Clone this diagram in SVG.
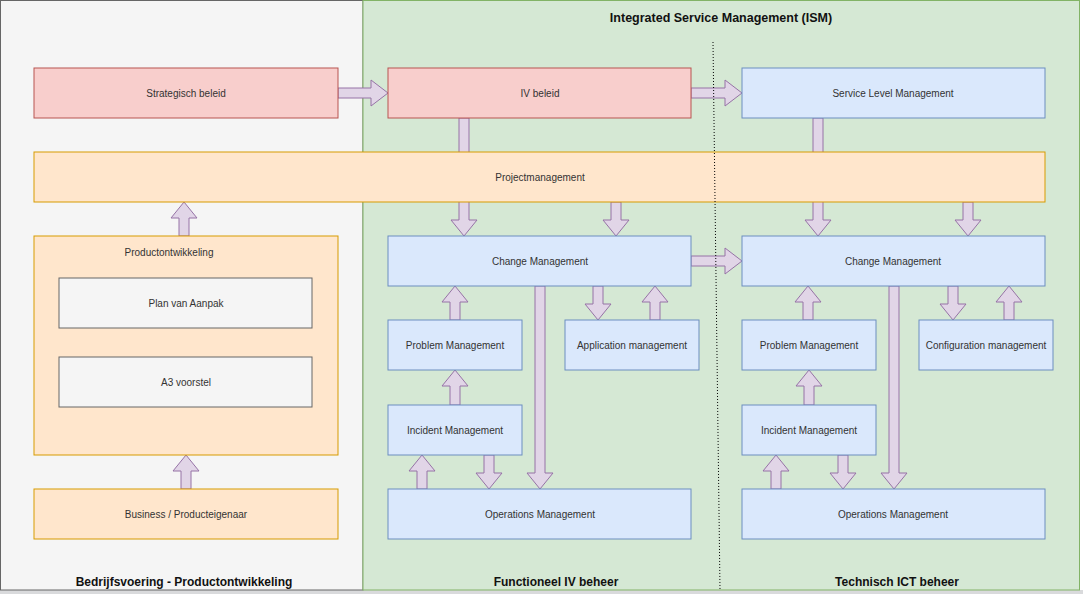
<svg xmlns="http://www.w3.org/2000/svg" width="1083" height="594" viewBox="0 0 1083 594">
<style>
.lbl{font-family:"Liberation Sans",Arial,sans-serif;font-size:10px;fill:#333;text-anchor:middle;dominant-baseline:central}
.ttl{font-family:"Liberation Sans",Arial,sans-serif;font-size:12px;font-weight:bold;fill:#111;text-anchor:middle;dominant-baseline:central}
.red{fill:#f8cecc;stroke:#b85450}
.blue{fill:#dae8fc;stroke:#6c8ebf}
.orange{fill:#ffe6cc;stroke:#d79b00}
.gray{fill:#f5f5f5;stroke:#666}
.arr{fill:#e1d5e7;stroke:#9673a6;stroke-width:1}
</style>
<rect x="0" y="0" width="1083" height="594" fill="#ffffff"/>
<rect x="0" y="590" width="1083" height="4" fill="#d9dadc"/>
<g id="lane-left">
<rect x="0.5" y="0.5" width="362.5" height="589.5" fill="#f5f5f5" stroke="#666"/>
<text class="ttl" x="184" y="582">Bedrijfsvoering - Productontwikkeling</text>
</g>
<g id="lane-ism">
<rect x="363" y="0.5" width="716.5" height="589.5" fill="#d5e8d4" stroke="#82b366"/>
<text class="ttl" x="721" y="18" style="font-size:12.5px">Integrated Service Management (ISM)</text>
<text class="ttl" x="556" y="582">Functioneel IV beheer</text>
<text class="ttl" x="897" y="582">Technisch ICT beheer</text>
</g>
<g id="connectors">
<polygon class="arr" points="338,88 371,88 371,80 388,93 371,106 371,98 338,98"/>
<polygon class="arr" points="691,88 725,88 725,80 742,93 725,106 725,98 691,98"/>
<polygon class="arr" points="691,256 725,256 725,248 742,261 725,274 725,266 691,266"/>
<polygon class="arr" points="459,118 469,118 469,220 477,220 464,236 451,220 459,220"/>
<polygon class="arr" points="611,202 621,202 621,220 629,220 616,236 603,220 611,220"/>
<polygon class="arr" points="813,118 823,118 823,220 831,220 818,236 805,220 813,220"/>
<polygon class="arr" points="963,202 973,202 973,220 981,220 968,236 955,220 963,220"/>
<polygon class="arr" points="593,286 603,286 603,304 611,304 598,320 585,304 593,304"/>
<polygon class="arr" points="535,286 545,286 545,473 553,473 540,489 527,473 535,473"/>
<polygon class="arr" points="484,455 494,455 494,473 502,473 489,489 476,473 484,473"/>
<polygon class="arr" points="948,286 958,286 958,304 966,304 953,320 940,304 948,304"/>
<polygon class="arr" points="889,286 899,286 899,473 907,473 894,489 881,473 889,473"/>
<polygon class="arr" points="838,455 848,455 848,473 856,473 843,489 830,473 838,473"/>
<polygon class="arr" points="450,320 460,320 460,302 468,302 455,286 442,302 450,302"/>
<polygon class="arr" points="650,320 660,320 660,302 668,302 655,286 642,302 650,302"/>
<polygon class="arr" points="450,405 460,405 460,386 468,386 455,370 442,386 450,386"/>
<polygon class="arr" points="417,489 427,489 427,471 435,471 422,455 409,471 417,471"/>
<polygon class="arr" points="803,320 813,320 813,302 821,302 808,286 795,302 803,302"/>
<polygon class="arr" points="1004,320 1014,320 1014,302 1022,302 1009,286 996,302 1004,302"/>
<polygon class="arr" points="804,405 814,405 814,386 822,386 809,370 796,386 804,386"/>
<polygon class="arr" points="771,489 781,489 781,471 789,471 776,455 763,471 771,471"/>
<polygon class="arr" points="179,236 189,236 189,218 197,218 184,202 171,218 179,218"/>
<polygon class="arr" points="181,489 191,489 191,471 199,471 186,455 173,471 181,471"/>
</g>
<g id="strategisch"><rect class="red" x="34" y="68" width="304" height="50"/><text class="lbl" x="186" y="93">Strategisch beleid</text></g>
<g id="ivbeleid"><rect class="red" x="388" y="68" width="303" height="50"/><text class="lbl" x="540" y="93">IV beleid</text></g>
<g id="slm"><rect class="blue" x="742" y="68" width="303" height="50"/><text class="lbl" x="893" y="93">Service Level Management</text></g>
<g id="projectmanagement"><rect class="orange" x="34" y="152" width="1011" height="50"/><text class="lbl" x="540" y="177">Projectmanagement</text></g>
<g id="productontwikkeling"><rect class="orange" x="34" y="236" width="304" height="219"/><text class="lbl" x="169" y="252">Productontwikkeling</text></g>
<g id="pva"><rect class="gray" x="59" y="278" width="253" height="50"/><text class="lbl" x="186" y="303">Plan van Aanpak</text></g>
<g id="a3"><rect class="gray" x="59" y="357" width="253" height="50"/><text class="lbl" x="186" y="382">A3 voorstel</text></g>
<g id="business"><rect class="orange" x="34" y="489" width="304" height="50"/><text class="lbl" x="186" y="514">Business / Producteigenaar</text></g>
<g id="change-l"><rect class="blue" x="388" y="236" width="303" height="50"/><text class="lbl" x="540" y="261">Change Management</text></g>
<g id="problem-l"><rect class="blue" x="388" y="320" width="134" height="50"/><text class="lbl" x="455" y="345">Problem Management</text></g>
<g id="application"><rect class="blue" x="565" y="320" width="134" height="50"/><text class="lbl" x="632" y="345">Application management</text></g>
<g id="incident-l"><rect class="blue" x="388" y="405" width="134" height="50"/><text class="lbl" x="455" y="430">Incident Management</text></g>
<g id="operations-l"><rect class="blue" x="388" y="489" width="303" height="50"/><text class="lbl" x="540" y="514">Operations Management</text></g>
<g id="change-r"><rect class="blue" x="742" y="236" width="303" height="50"/><text class="lbl" x="893" y="261">Change Management</text></g>
<g id="problem-r"><rect class="blue" x="742" y="320" width="134" height="50"/><text class="lbl" x="809" y="345">Problem Management</text></g>
<g id="configuration"><rect class="blue" x="919" y="320" width="134" height="50"/><text class="lbl" x="986" y="345">Configuration management</text></g>
<g id="incident-r"><rect class="blue" x="742" y="405" width="134" height="50"/><text class="lbl" x="809" y="430">Incident Management</text></g>
<g id="operations-r"><rect class="blue" x="742" y="489" width="303" height="50"/><text class="lbl" x="893" y="514">Operations Management</text></g>
<g id="divider"><line x1="713" y1="42" x2="720" y2="590" stroke="#000" stroke-width="1" stroke-dasharray="1,2"/></g>
</svg>
